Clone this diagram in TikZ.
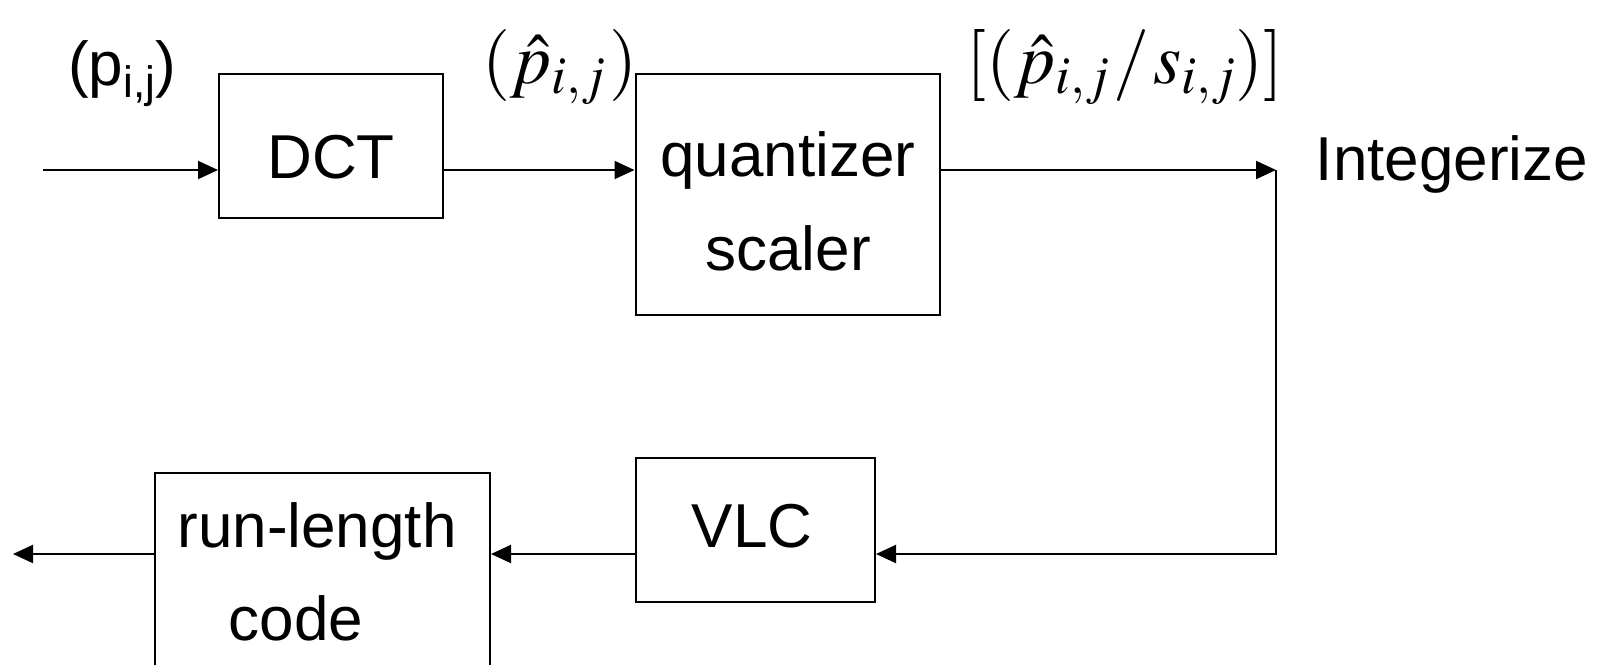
\documentclass[tikz,border=0pt]{standalone}
\usepackage{mathptmx}
\usepackage{fontspec}
\setmainfont{Liberation Sans}
\usetikzlibrary{arrows.meta}
\tikzset{
  blk/.style={draw, line width=2pt, inner sep=0pt},
  lbl/.style={font=\fontsize{62}{62}\selectfont, inner sep=0pt, anchor=base},
  mlbl/.style={font=\fontsize{72}{72}\selectfont, inner sep=0pt, anchor=base west},
  conn/.style={line width=2pt, -{Triangle[length=20pt,width=18pt]}},
  wire/.style={line width=2pt}
}
\begin{document}
\begin{tikzpicture}[x=1pt,y=-1pt]
\useasboundingbox (0,0) rectangle (1609,664);
% boxes
\node[blk, minimum width=224pt, minimum height=144pt] (dct) at (331,146) {};
\node[blk, minimum width=304pt, minimum height=241pt] (q) at (787.5,194.5) {};
\node[blk, minimum width=239pt, minimum height=144pt] (vlc) at (755.5,530) {};
\node[blk, minimum width=335pt, minimum height=240pt] (rl) at (322.5,593) {};
% box texts
\node[lbl] (dcttxt) at (331,178) {DCT};
\node[lbl] (qtxt) at (788,176) {quantizer};
\node[lbl] (stxt) at (788,270) {scaler};
\node[lbl] (vlctxt) at (752,547) {VLC};
\node[lbl] (rltxt) at (317,547) {run-length};
\node[lbl] (codetxt) at (296,640) {code};
\node[lbl] (inttxt) at (1452,180) {Integerize};
% signal labels
\node[lbl, anchor=base west] (plbl) at (68,85) {(p\raisebox{-12pt}{\fontsize{44}{44}\selectfont i,j})};
\node[mlbl] (phlbl) at (482,83) {$(\hat{p}_{i,j}\mskip1mu)$};
\node[mlbl] (qlbl) at (966,83) {$[(\hat{p}_{i,j}\mskip1mu/\mskip1mu s_{i,j})]$};
% connectors
\coordinate (ya) at (0,170);
\coordinate (yb) at (0,554);
\coordinate (in) at (43,170);
\coordinate (corner) at (1276,170);
\coordinate (out) at (13,554);
\draw[conn] (in) -- (in -| dct.west);
\draw[conn] (dct.east |- ya) -- (q.west |- ya);
\draw[conn] (q.east |- ya) -- (corner);
\draw[conn] (corner) -- (corner |- yb) -- (vlc.east |- yb);
\draw[conn] (vlc.west |- yb) -- (rl.east |- yb);
\draw[conn] (rl.west |- yb) -- (out);
\end{tikzpicture}
\end{document}
